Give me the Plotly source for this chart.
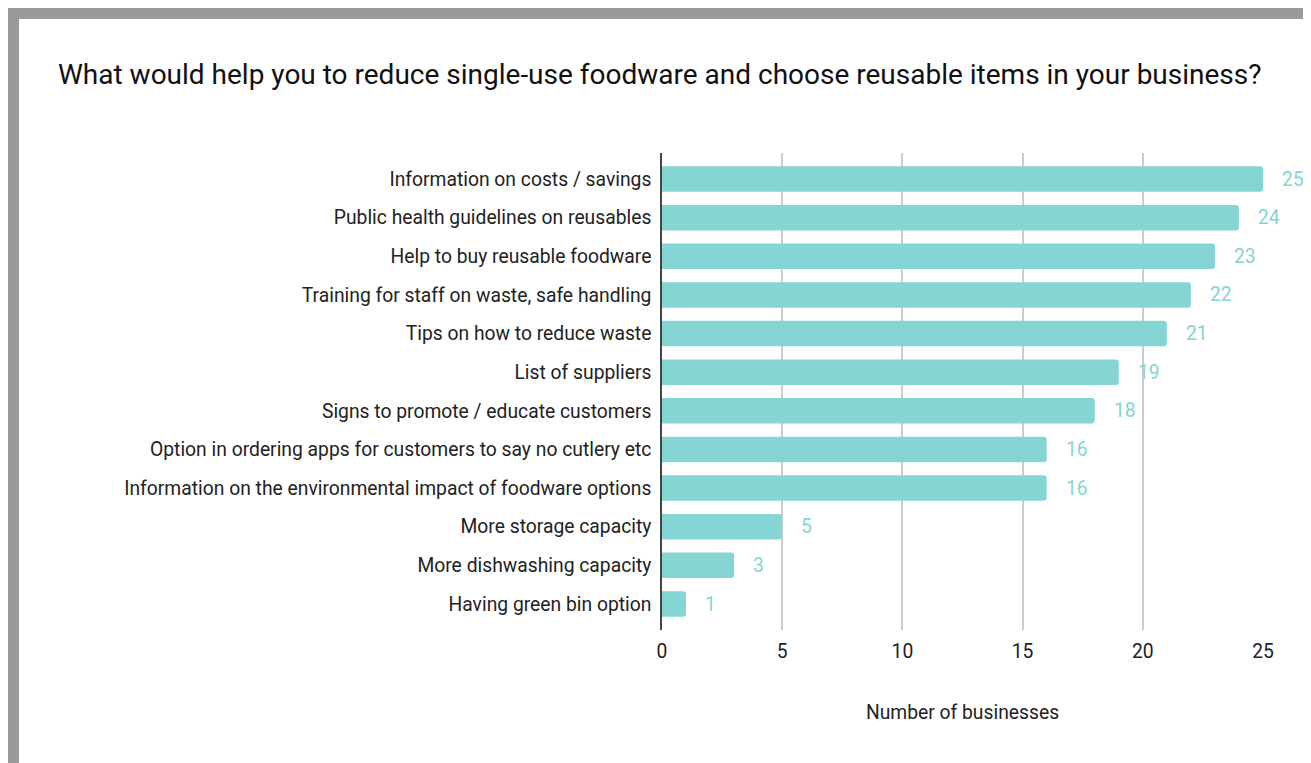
import plotly.graph_objects as go

categories = [
    "Having green bin option",
    "More dishwashing capacity",
    "More storage capacity",
    "Information on the environmental impact of foodware options",
    "Option in ordering apps for customers to say no cutlery etc",
    "Signs to promote / educate customers",
    "List of suppliers",
    "Tips on how to reduce waste",
    "Training for staff on waste, safe handling",
    "Help to buy reusable foodware",
    "Public health guidelines on reusables",
    "Information on costs / savings",
]
values = [1, 3, 5, 16, 16, 18, 19, 21, 22, 23, 24, 25]
x_ticks = [0, 5, 10, 15, 20, 25]

OFF = 8  # page offset of the figure in the browser
W, H = 1311, 763
ML, MT = 662 - OFF, 153 - OFF
PLOT_R, PLOT_B = 1263 - OFF, 630 - OFF
MR = W - PLOT_R
MB = H - PLOT_B
PW, PH = W - ML - MR, H - MT - MB
BAR = "#84d5d3"
FONT = "Roboto, Arial, sans-serif"
TXT = 19.3

fig = go.Figure()
fig.add_trace(go.Bar(
    y=categories, x=values, orientation="h",
    marker=dict(color=BAR, line=dict(width=0)),
    width=0.66, hoverinfo="x+y",
))

for c, v in zip(categories, values):
    fig.add_annotation(x=v, y=c, xref="x", yref="y", text=str(v),
                       showarrow=False, xanchor="left", yanchor="middle",
                       xshift=17, font=dict(family=FONT, size=TXT, color=BAR))


def px_x(p):
    return (p - OFF - ML) / PW


def px_y(p):
    return 1 - (p - OFF - MT) / PH


gray = "#999999"
# border frame (page pixel coordinates)
for x0, y0, x1, y1 in [(8, 8, 1303, 19), (8, 8, 19, 780), (1303, 8, 1311, 780)]:
    fig.add_shape(type="rect", xref="paper", yref="paper",
                  x0=px_x(x0), x1=px_x(x1), y0=px_y(y1), y1=px_y(y0),
                  fillcolor=gray, line=dict(width=0), layer="above")

fig.update_layout(
    width=W, height=H,
    margin=dict(l=ML, r=MR, t=MT, b=MB, pad=0),
    paper_bgcolor="white", plot_bgcolor="white",
    barcornerradius=3,
    showlegend=False,
    font=dict(family=FONT, size=TXT, color="#222222"),
    title=dict(text="What would help you to reduce single-use foodware and choose reusable items in your business?",
               x=(58 - OFF) / W, xref="container", xanchor="left", y=1 - (74 - OFF) / H, yanchor="middle",
               font=dict(family=FONT, size=28, color="#111111")),
    xaxis=dict(range=[0, 25], tickvals=x_ticks, showgrid=True, gridcolor="#cccccc",
               gridwidth=1.5, zeroline=False, showline=False, ticks="",
               ticklabelstandoff=8,
               tickfont=dict(family=FONT, size=TXT, color="#222222"),
               title=dict(text="Number of businesses", standoff=43,
                          font=dict(family=FONT, size=TXT, color="#222222"))),
    yaxis=dict(range=[-0.673, 11.673], showline=True, linecolor="#444444", linewidth=1.5,
               ticks="", ticklabelstandoff=5, showgrid=False,
               tickfont=dict(family=FONT, size=TXT, color="#222222")),
)
fig.update_xaxes(automargin=False)
fig.update_yaxes(automargin=False)

fig.write_html("out.html")
